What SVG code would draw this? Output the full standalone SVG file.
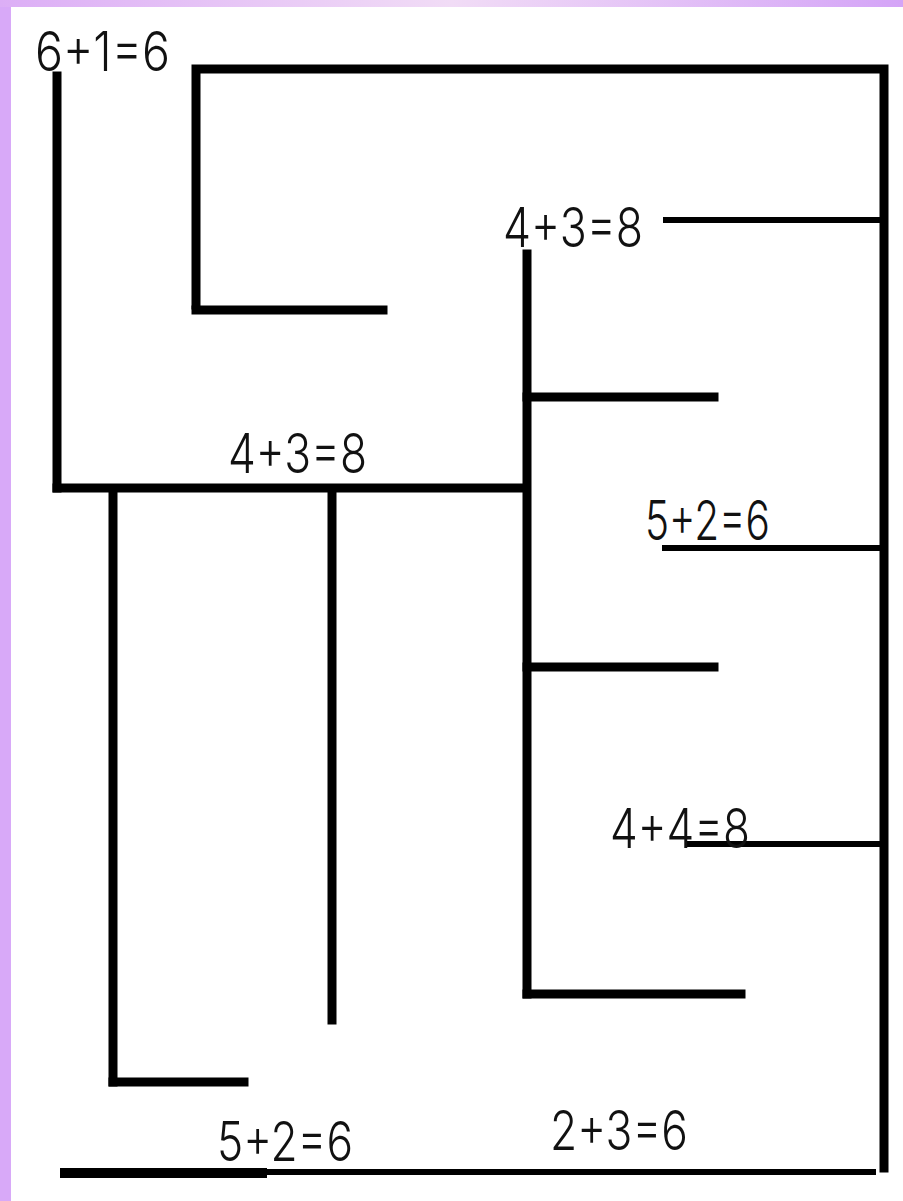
<svg xmlns="http://www.w3.org/2000/svg" width="903" height="1201" viewBox="0 0 903 1201">
  <defs>
    <linearGradient id="topband" x1="0" y1="0" x2="1" y2="0">
      <stop offset="0" stop-color="#dcaef6"/>
      <stop offset="0.5" stop-color="#f1dcf6"/>
      <stop offset="1" stop-color="#d4a4f7"/>
    </linearGradient>
    <style>
      .thick { stroke: #000; stroke-width: 9; fill: none; stroke-linecap: square; }
      .thin { stroke: #000; stroke-width: 6; fill: none; }
      .lbl { font-family: Inter, "Liberation Sans", sans-serif; font-weight: 300; font-size: 55px; fill: #111; }
    </style>
  </defs>

  <rect x="0" y="0" width="903" height="1201" fill="#ffffff"/>
  <rect x="0" y="0" width="11" height="1201" fill="#d8a9f8"/>
  <rect x="0" y="0" width="903" height="7" fill="url(#topband)"/>

  <g id="connectors">
    <!-- outer frame -->
    <polyline class="thick" points="196,305 196,69 884,69 884,1168"/>
    <line class="thick" x1="196" y1="310" x2="383" y2="310"/>
    <line class="thick" x1="57" y1="76" x2="57" y2="488"/>
    <line class="thick" x1="57" y1="488" x2="525" y2="488"/>
    <line class="thick" x1="527" y1="254" x2="527" y2="994"/>
    <line class="thick" x1="527" y1="397" x2="714" y2="397"/>
    <line class="thick" x1="527" y1="667" x2="714" y2="667"/>
    <line class="thick" x1="527" y1="994" x2="741" y2="994"/>
    <line class="thin" x1="663" y1="220" x2="884" y2="220"/>
    <line class="thin" x1="662" y1="548" x2="884" y2="548"/>
    <line class="thin" x1="687" y1="844" x2="884" y2="844"/>
    <line class="thick" x1="113" y1="492" x2="113" y2="1082"/>
    <line class="thick" x1="113" y1="1082" x2="244" y2="1082"/>
    <line class="thick" x1="332" y1="492" x2="332" y2="1020"/>
    <line stroke="#000" stroke-width="10" x1="60" y1="1173" x2="267" y2="1173"/>
    <line class="thin" x1="60" y1="1172" x2="876" y2="1172"/>
  </g>

  <g id="label-6plus1">
    <text class="lbl" x="35" y="71" textLength="135" lengthAdjust="spacingAndGlyphs">6+1=6</text>
  </g>
  <g id="label-4plus3-top">
    <text class="lbl" x="503" y="247" textLength="140" lengthAdjust="spacingAndGlyphs">4+3=8</text>
  </g>
  <g id="label-4plus3-mid">
    <text class="lbl" x="228" y="473" textLength="139" lengthAdjust="spacingAndGlyphs">4+3=8</text>
  </g>
  <g id="label-5plus2-right">
    <text class="lbl" x="645" y="540" textLength="125" lengthAdjust="spacingAndGlyphs">5+2=6</text>
  </g>
  <g id="label-4plus4">
    <text class="lbl" x="610" y="848" textLength="140" lengthAdjust="spacingAndGlyphs">4+4=8</text>
  </g>
  <g id="label-5plus2-bottom">
    <text class="lbl" x="217" y="1161" textLength="136" lengthAdjust="spacingAndGlyphs">5+2=6</text>
  </g>
  <g id="label-2plus3">
    <text class="lbl" x="550" y="1150" textLength="138" lengthAdjust="spacingAndGlyphs">2+3=6</text>
  </g>
</svg>
